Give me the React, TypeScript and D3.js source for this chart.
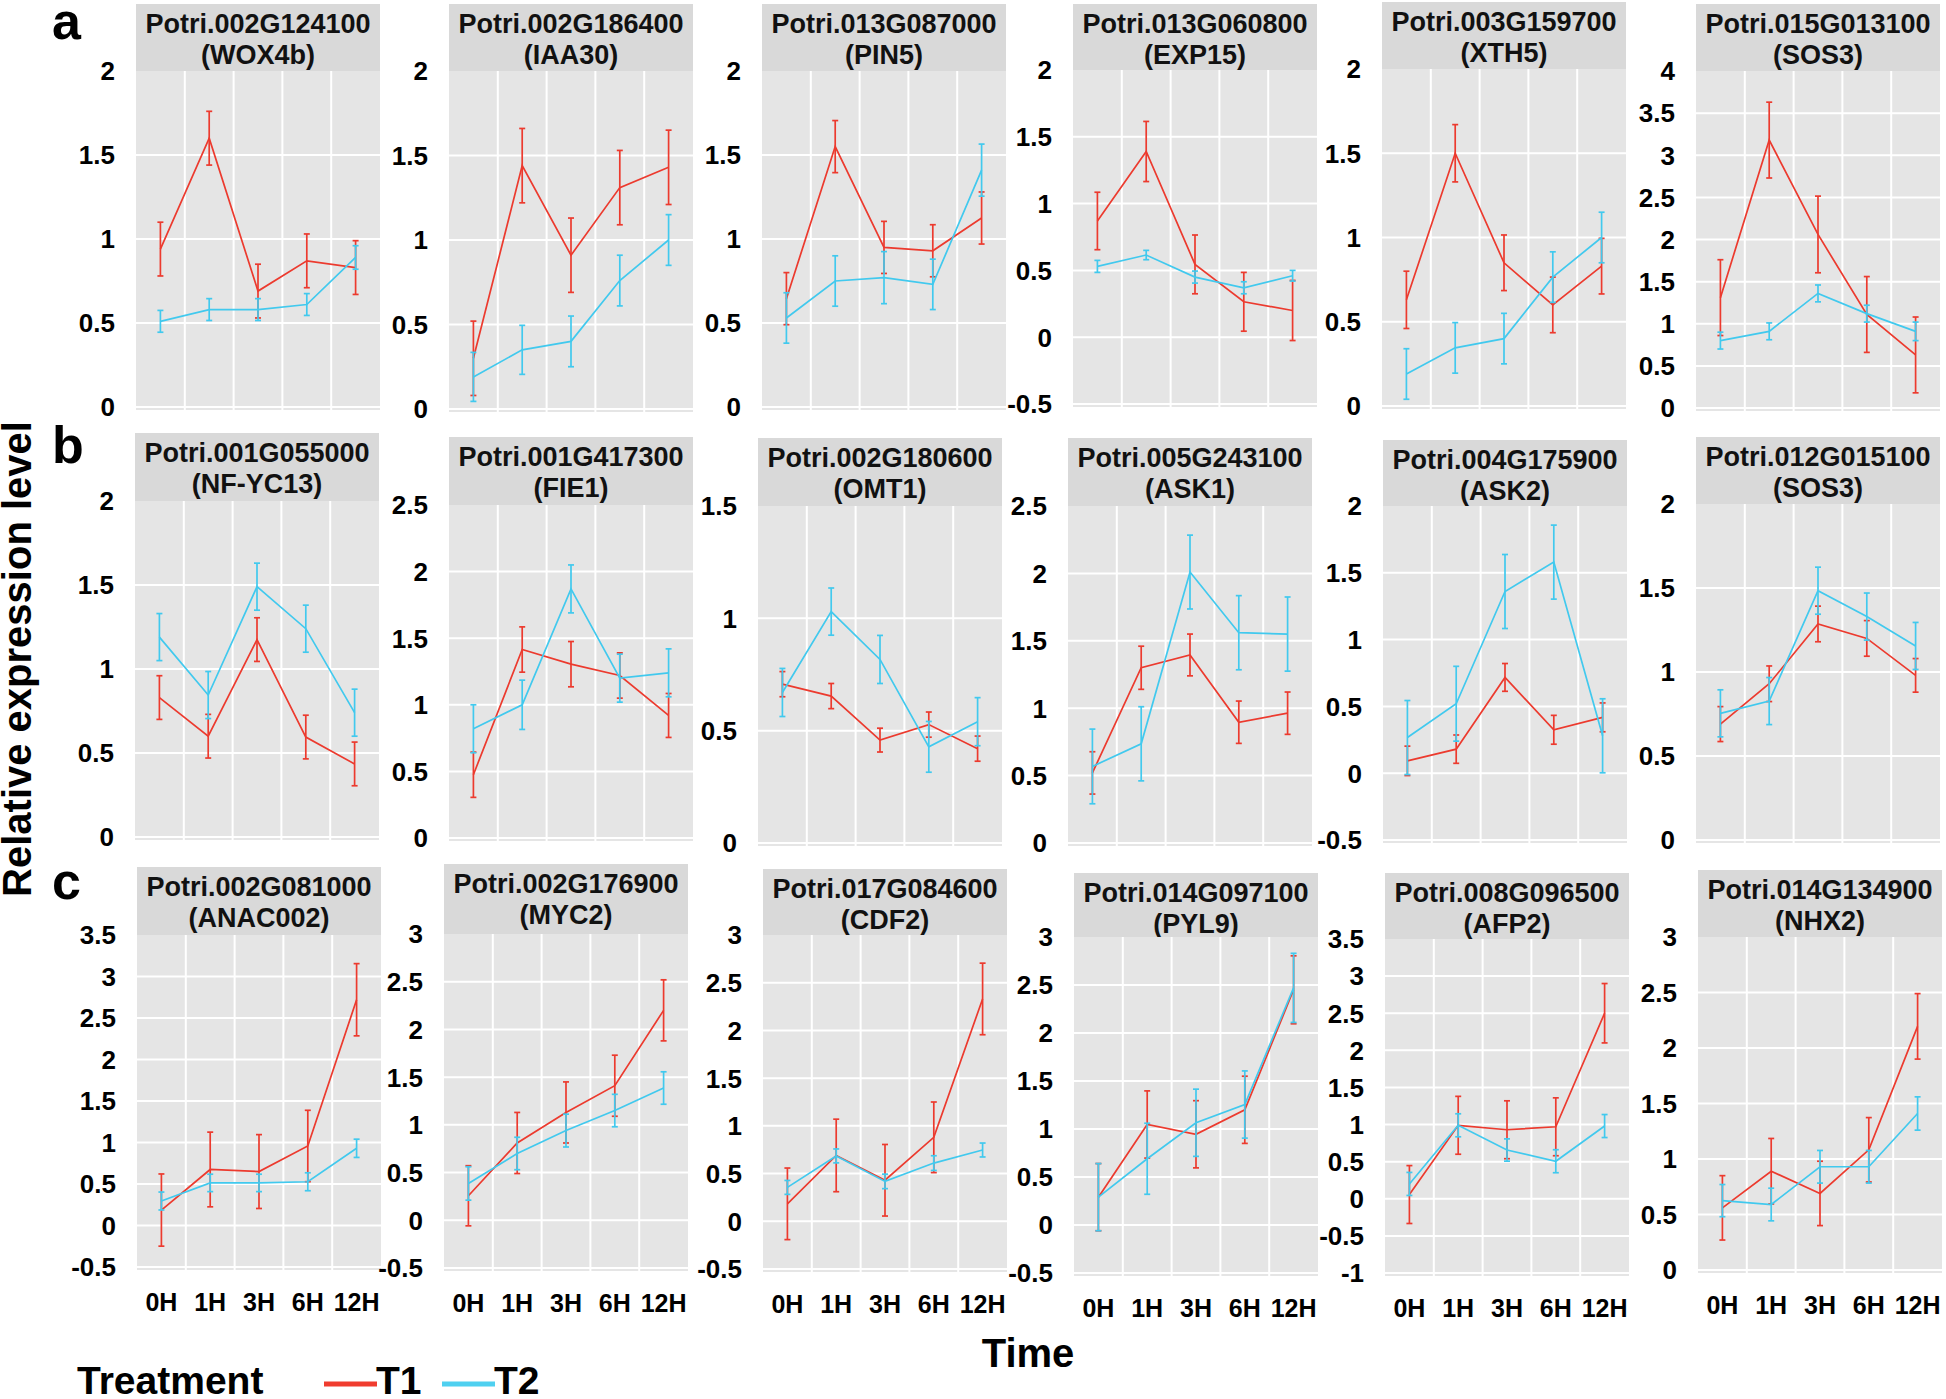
import React from "react";
import * as d3 from "d3";

const times = ["0H", "1H", "3H", "6H", "12H"];

const geneIds = [
  "Potri.002G124100", "Potri.002G186400", "Potri.013G087000", "Potri.013G060800", "Potri.003G159700", "Potri.015G013100",
  "Potri.001G055000", "Potri.001G417300", "Potri.002G180600", "Potri.005G243100", "Potri.004G175900", "Potri.012G015100",
  "Potri.002G081000", "Potri.002G176900", "Potri.017G084600", "Potri.014G097100", "Potri.008G096500", "Potri.014G134900",
];
const geneNames = [
  "(WOX4b)", "(IAA30)", "(PIN5)", "(EXP15)", "(XTH5)", "(SOS3)",
  "(NF-YC13)", "(FIE1)", "(OMT1)", "(ASK1)", "(ASK2)", "(SOS3)",
  "(ANAC002)", "(MYC2)", "(CDF2)", "(PYL9)", "(AFP2)", "(NHX2)",
];
const yDomains = [
  [0, 2], [0, 2], [0, 2], [-0.5, 2], [0, 2], [0, 4],
  [0, 2], [0, 2.5], [0, 1.5], [0, 2.5], [-0.5, 2], [0, 2],
  [-0.5, 3.5], [-0.5, 3], [-0.5, 3], [-0.5, 3], [-1, 3.5], [0, 3],
];

const t1Mean = [
  [0.94, 1.6, 0.69, 0.87, 0.83],
  [0.3, 1.44, 0.91, 1.31, 1.43],
  [0.645, 1.55, 0.95, 0.93, 1.125],
  [0.87, 1.39, 0.545, 0.265, 0.2],
  [0.63, 1.5, 0.85, 0.6, 0.83],
  [1.31, 3.18, 2.06, 1.11, 0.63],
  [0.83, 0.6, 1.175, 0.595, 0.435],
  [0.475, 1.415, 1.305, 1.22, 0.92],
  [0.707, 0.654, 0.458, 0.527, 0.42],
  [0.52, 1.3, 1.395, 0.896, 0.963],
  [0.0925, 0.18, 0.717, 0.325, 0.418],
  [0.69, 0.93, 1.286, 1.2, 0.98],
  [0.186, 0.675, 0.65, 0.958, 2.72],
  [0.257, 0.81, 1.13, 1.41, 2.2],
  [0.183, 0.69, 0.43, 0.88, 2.33],
  [0.29, 1.047, 0.945, 1.2, 2.45],
  [0.057, 0.99, 0.93, 0.97, 2.5],
  [0.56, 0.89, 0.69, 1.083, 2.195],
];
const t1Err = [
  [0.16, 0.16, 0.16, 0.16, 0.16],
  [0.22, 0.22, 0.22, 0.22, 0.22],
  [0.155, 0.155, 0.155, 0.155, 0.155],
  [0.215, 0.225, 0.22, 0.22, 0.225],
  [0.17, 0.17, 0.165, 0.165, 0.165],
  [0.45, 0.45, 0.455, 0.45, 0.45],
  [0.13, 0.13, 0.13, 0.13, 0.13],
  [0.17, 0.17, 0.17, 0.17, 0.165],
  [0.056, 0.056, 0.053, 0.056, 0.056],
  [0.157, 0.16, 0.155, 0.157, 0.157],
  [0.11, 0.106, 0.104, 0.108, 0.108],
  [0.104, 0.106, 0.106, 0.106, 0.1],
  [0.435, 0.45, 0.445, 0.43, 0.435],
  [0.315, 0.32, 0.32, 0.32, 0.32],
  [0.375, 0.38, 0.375, 0.37, 0.375],
  [0.35, 0.35, 0.35, 0.35, 0.354],
  [0.39, 0.39, 0.39, 0.39, 0.4],
  [0.29, 0.295, 0.29, 0.29, 0.295],
];
const t2Mean = [
  [0.51, 0.58, 0.58, 0.61, 0.89],
  [0.19, 0.35, 0.4, 0.76, 1.0],
  [0.53, 0.75, 0.77, 0.73, 1.41],
  [0.53, 0.615, 0.45, 0.37, 0.46],
  [0.19, 0.345, 0.4, 0.765, 1.0],
  [0.8, 0.91, 1.36, 1.12, 0.91],
  [1.19, 0.845, 1.49, 1.24, 0.74],
  [0.82, 1.0, 1.87, 1.2, 1.24],
  [0.67, 1.03, 0.817, 0.428, 0.54],
  [0.568, 0.736, 2.01, 1.56, 1.55],
  [0.267, 0.52, 1.36, 1.58, 0.28],
  [0.754, 0.827, 1.484, 1.33, 1.155],
  [0.295, 0.513, 0.513, 0.527, 0.93],
  [0.386, 0.7, 0.94, 1.15, 1.386],
  [0.355, 0.685, 0.418, 0.61, 0.747],
  [0.29, 0.69, 1.065, 1.255, 2.47],
  [0.2, 0.99, 0.657, 0.506, 0.98],
  [0.625, 0.59, 0.93, 0.93, 1.41],
];
const t2Err = [
  [0.065, 0.065, 0.065, 0.065, 0.07],
  [0.145, 0.145, 0.15, 0.15, 0.15],
  [0.15, 0.15, 0.155, 0.15, 0.155],
  [0.045, 0.035, 0.045, 0.045, 0.04],
  [0.15, 0.15, 0.15, 0.15, 0.15],
  [0.1, 0.1, 0.1, 0.1, 0.11],
  [0.14, 0.14, 0.14, 0.14, 0.14],
  [0.18, 0.185, 0.18, 0.18, 0.18],
  [0.107, 0.105, 0.107, 0.113, 0.107],
  [0.277, 0.275, 0.274, 0.275, 0.275],
  [0.277, 0.28, 0.277, 0.277, 0.277],
  [0.14, 0.14, 0.14, 0.14, 0.14],
  [0.108, 0.105, 0.105, 0.108, 0.11],
  [0.175, 0.17, 0.172, 0.17, 0.17],
  [0.073, 0.073, 0.076, 0.077, 0.073],
  [0.35, 0.37, 0.35, 0.35, 0.36],
  [0.155, 0.155, 0.15, 0.155, 0.155],
  [0.145, 0.147, 0.147, 0.147, 0.15],
];

const seriesNames = ["T1", "T2"];
const rowLetters = ["a", "b", "c"];

// layout (pixels)
const W = 1946;
const H = 1399;
const PW = 244;
const lefts = [
  [136, 449, 762, 1073, 1382, 1696],
  [135, 449, 758, 1068, 1383, 1696],
  [137, 444, 763, 1074, 1385, 1698],
];
const headTops = [
  [4, 4, 4, 4, 2, 4],
  [433, 437, 438, 438, 440, 437],
  [867, 864, 869, 873, 873, 870],
];
const plotTops = [
  [71, 71, 71, 70, 69, 71],
  [501, 505, 506, 506, 506, 504],
  [935, 934, 935, 937, 939, 937],
];
const plotBottoms = [
  [407, 409, 407, 404, 406, 408],
  [837, 838, 843, 843, 840, 840],
  [1267, 1268, 1269, 1273, 1273, 1270],
];

const RED = "#ec3a2e";
const BLUE = "#41c9ee";
const FONT = "'Liberation Sans', Arial, Helvetica, sans-serif";

function Panel({ idx }: { idx: number }) {
  const r = Math.floor(idx / 6);
  const c = idx % 6;
  const left = lefts[r][c];
  const top = plotTops[r][c];
  const bottom = plotBottoms[r][c];
  const htop = headTops[r][c];
  const [ymin, ymax] = yDomains[idx];
  const x = d3.scaleBand<string>().domain(times).range([left, left + PW]).padding(0);
  const bw = x.bandwidth();
  const cx = (t: string) => (x(t) as number) + bw / 2;
  const y = d3.scaleLinear().domain([ymin, ymax]).range([bottom, top]);
  const ticks = d3.range(ymin, ymax + 0.001, 0.5).map((v) => Math.round(v * 10) / 10);
  const line = d3
    .line<number>()
    .x((_, i) => cx(times[i]))
    .y((d) => y(d));
  const series = [
    { name: seriesNames[0], mean: t1Mean[idx], err: t1Err[idx], color: RED },
    { name: seriesNames[1], mean: t2Mean[idx], err: t2Err[idx], color: BLUE },
  ];
  const capW = 3;
  return (
    <g>
      <rect x={left} y={htop} width={PW} height={top - htop} fill="#d9d9d9" />
      <text x={left + PW / 2} y={htop + 29} textAnchor="middle" fontSize={27} fontWeight="bold" fontFamily={FONT} fill="#111">
        {geneIds[idx]}
      </text>
      <text x={left + PW / 2} y={htop + 60} textAnchor="middle" fontSize={27} fontWeight="bold" fontFamily={FONT} fill="#111">
        {geneNames[idx]}
      </text>
      <rect x={left} y={top} width={PW} height={bottom - top + 3} fill="#e5e5e5" />
      {ticks
        .filter((v) => v < ymax)
        .map((v) => (
          <line key={"h" + v} x1={left} x2={left + PW} y1={y(v)} y2={y(v)} stroke="#fff" strokeWidth={2} />
        ))}
      {times.slice(1).map((t) => (
        <line key={"v" + t} x1={x(t) as number} x2={x(t) as number} y1={top} y2={bottom + 3} stroke="#fff" strokeWidth={2} />
      ))}
      {ticks.map((v) => (
        <text
          key={"t" + v}
          x={left - 21}
          y={y(v)}
          dy="0.36em"
          textAnchor="end"
          fontSize={26}
          fontWeight="bold"
          fontFamily={FONT}
          fill="#000"
        >
          {String(v)}
        </text>
      ))}
      {r === 2 &&
        times.map((t) => (
          <text key={"x" + t} x={cx(t)} y={bottom + 44} textAnchor="middle" fontSize={25} fontWeight="bold" fontFamily={FONT} fill="#000">
            {t}
          </text>
        ))}
      {series.map((s) => (
        <g key={s.name}>
          <path d={line(s.mean) as string} fill="none" stroke={s.color} strokeWidth={1.7} />
          {s.mean.map((m, i) => {
            const px = cx(times[i]);
            const y1 = y(m + s.err[i]);
            const y2 = y(m - s.err[i]);
            return (
              <g key={i}>
                <line x1={px} x2={px} y1={y1} y2={y2} stroke={s.color} strokeWidth={1.7} />
                <line x1={px - capW} x2={px + capW} y1={y1} y2={y1} stroke={s.color} strokeWidth={1.7} />
                <line x1={px - capW} x2={px + capW} y1={y2} y2={y2} stroke={s.color} strokeWidth={1.7} />
              </g>
            );
          })}
        </g>
      ))}
    </g>
  );
}

export default function App() {
  const letterY = [39, 463, 899];
  return (
    <svg
      width={W}
      height={H}
      style={{ display: "block", position: "absolute", left: 0, top: 0, background: "#fff" }}
      fontFamily={FONT}
    >
      <rect x={0} y={0} width={W} height={H} fill="#fff" />
      {geneIds.map((_, i) => (
        <Panel key={i} idx={i} />
      ))}
      {rowLetters.map((l, i) => (
        <text key={l} x={52} y={letterY[i]} fontSize={52} fontWeight="bold" fontFamily={FONT} fill="#000">
          {l}
        </text>
      ))}
      <text transform="translate(31,659) rotate(-90)" textAnchor="middle" fontSize={40} fontWeight="bold" fontFamily={FONT} fill="#000">
        Relative expression level
      </text>
      <text x={1028} y={1367} textAnchor="middle" fontSize={40} fontWeight="bold" fontFamily={FONT} fill="#000">
        Time
      </text>
      <text x={77} y={1394} fontSize={39} fontWeight="bold" fontFamily={FONT} fill="#000">
        Treatment
      </text>
      <line x1={324} x2={377} y1={1384} y2={1384} stroke="#f03c2e" strokeWidth={5} />
      <text x={376} y={1394} fontSize={39} fontWeight="bold" fontFamily={FONT} fill="#000">
        {seriesNames[0]}
      </text>
      <line x1={442} x2={495} y1={1384} y2={1384} stroke="#4fd0f0" strokeWidth={5} />
      <text x={494} y={1394} fontSize={39} fontWeight="bold" fontFamily={FONT} fill="#000">
        {seriesNames[1]}
      </text>
    </svg>
  );
}
